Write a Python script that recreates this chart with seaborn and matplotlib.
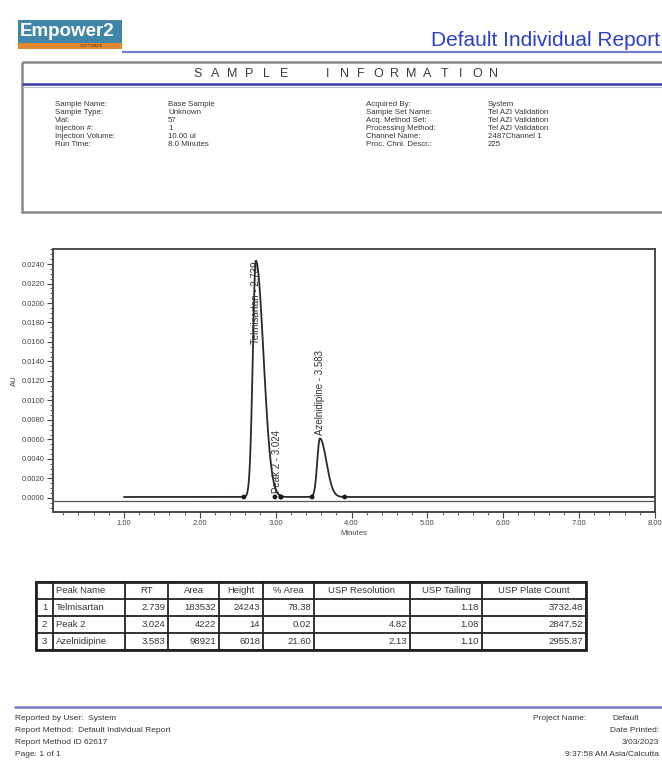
import numpy as np
import pandas as pd
import matplotlib
matplotlib.use("Agg")
import matplotlib.pyplot as plt
import seaborn as sns
from matplotlib.patches import Rectangle
from matplotlib.ticker import MultipleLocator, FormatStrFormatter

sns.set_theme(style="ticks")
plt.rcParams["font.family"] = ["Liberation Sans", "DejaVu Sans"]

# ---------------- report content ----------------
report_title = "Default Individual Report"
section_words = ["SAMPLE", "INFORMATION"]

info_left_labels = ["Sample Name:", "Sample Type:", "Vial:", "Injection #:",
                    "Injection Volume:", "Run Time:"]
info_left_values = ["Base Sample", "Unknown", "57", "1", "10.00 ul", "8.0 Minutes"]
info_right_labels = ["Acquired By:", "Sample Set Name:", "Acq. Method Set:",
                     "Processing Method:", "Channel Name:", "Proc. Chnl. Descr.:"]
info_right_values = ["System", "Tel AZI Validation", "Tel AZI Validation",
                     "Tel AZI Validation", "2487Channel 1", "225"]

# peak results
peak_names = ["Telmisartan", "Peak 2", "Azelnidipine"]
peak_rt = [2.739, 3.024, 3.583]
peak_area = [183532, 4222, 98921]
peak_height_uv = [24243, 14, 6018]
peak_pct_area = [78.38, 0.02, 21.60]
usp_resolution = [None, 4.82, 2.13]
usp_tailing = [1.18, 1.08, 1.10]
usp_plate_count = [3732.48, 2847.52, 2955.87]

# peak shape (front / tail widths, min) and integration marks (min)
peak_front_width = [0.040, 0.010, 0.035]
peak_tail_width = [0.100, 0.012, 0.085]
peak_start = [2.58, 2.99, 3.48]
peak_end = [3.07, 3.07, 3.91]

footer_left = ["Reported by User:  System",
               "Report Method:  Default Individual Report",
               "Report Method ID 62617",
               "Page: 1 of 1"]
footer_right = ["Date Printed:", "3/03/2023", "9:37:58 AM Asia/Calcutta"]

run_start, run_end = 1.0, 8.0
baseline_level = 0.0001

# ---------------- figure / page ----------------
W, H = 662, 768
fig = plt.figure(figsize=(W / 100, H / 100), dpi=100)
fig.patch.set_facecolor("white")
page = fig.add_axes([0, 0, 1, 1])
page.set_xlim(0, W)
page.set_ylim(H, 0)
page.axis("off")

txt = "#363636"

# logo
page.add_patch(Rectangle((18, 20), 104, 23, facecolor="#3f86a8", edgecolor="none"))
page.add_patch(Rectangle((18, 43), 104, 6, facecolor="#e2862f", edgecolor="none"))
page.text(20, 32, "Empower2", color="white", fontsize=13.5, fontweight="bold",
          va="center", ha="left")
page.text(92, 46.2, "SOFTWARE", color="#6a3a10", fontsize=3, va="center", ha="center")

# title and rule
page.text(660, 46, report_title, color="#2b3fc8", fontsize=15, ha="right", va="baseline")
page.plot([122, W], [51.5, 51.5], color="#7a7ad2", lw=1.6, solid_capstyle="butt")

# sample information box
page.add_patch(Rectangle((22, 62), 660, 150, facecolor="none", edgecolor="#8a8a8a", lw=1.8))
word_start = [198, 328]
word_pitch = [17.2, 16.6]
for word, x0, pitch in zip(section_words, word_start, word_pitch):
    for k, ch in enumerate(word):
        page.text(x0 + pitch * k, 74, ch, color="#3c3c3c", fontsize=9,
                  ha="center", va="center")
page.plot([23, W], [84, 84], color="#3838a8", lw=1.8)
page.plot([23, W], [86.5, 86.5], color="#b8b8e0", lw=0.8)

for i, (lab, val) in enumerate(zip(info_left_labels, info_left_values)):
    y = 104 + 8 * i
    page.text(55, y, lab, fontsize=5.7, color=txt, va="center")
    page.text(168, y, val, fontsize=5.7, color=txt, va="center")
for i, (lab, val) in enumerate(zip(info_right_labels, info_right_values)):
    y = 104 + 8 * i
    page.text(366, y, lab, fontsize=5.7, color=txt, va="center")
    page.text(488, y, val, fontsize=5.7, color=txt, va="center")

# ---------------- chromatogram ----------------
ax_l, ax_r, ax_t, ax_b = 53, 655, 249, 512
ax = fig.add_axes([ax_l / W, 1 - ax_b / H, (ax_r - ax_l) / W, (ax_b - ax_t) / H])
ax.set_facecolor("white")

t = np.linspace(run_start, run_end, 7001)
signal = np.full_like(t, baseline_level)
for rt, h, wf, wt in zip(peak_rt, peak_height_uv, peak_front_width, peak_tail_width):
    amp = h / 1e6
    w = np.where(t < rt, wf, wt)
    signal += amp * np.exp(-0.5 * ((t - rt) / w) ** 2)

trace = pd.DataFrame({"Minutes": t, "AU": signal})
ax.axhline(-0.0003, color="#555555", lw=0.9)
sns.lineplot(data=trace, x="Minutes", y="AU", ax=ax, color="#2a2a2a", lw=1.3,
             estimator=None, sort=False)

marks = pd.DataFrame({"Minutes": peak_start + peak_end,
                      "AU": [baseline_level] * (2 * len(peak_start))})
sns.scatterplot(data=marks, x="Minutes", y="AU", ax=ax, color="#1a1a1a",
                s=12, edgecolor="none", zorder=5)

for name, rt, h in zip(peak_names, peak_rt, peak_height_uv):
    amp = h / 1e6
    label = f"{name} - {rt:.3f}"
    if amp > 0.02:
        ax.text(rt, amp, label, rotation=90, fontsize=7, color="#333333",
                ha="center", va="top")
    else:
        ax.text(rt, max(amp, baseline_level) + 0.0004, label, rotation=90,
                fontsize=7, color="#333333", ha="center", va="bottom")

ax.set_xlim(0.065, 8.0)
ax.set_ylim(-0.00144, 0.02554)
ax.xaxis.set_major_locator(MultipleLocator(1.0))
ax.xaxis.set_minor_locator(MultipleLocator(0.2))
ax.xaxis.set_major_formatter(FormatStrFormatter("%.2f"))
ax.yaxis.set_major_locator(MultipleLocator(0.002))
ax.yaxis.set_minor_locator(MultipleLocator(0.0005))
ax.yaxis.set_major_formatter(FormatStrFormatter("%.4f"))
ax.tick_params(which="major", length=4, width=0.8, labelsize=5.5, colors="#444444", pad=2)
ax.tick_params(which="minor", length=2, width=0.6, colors="#444444")
for s in ax.spines.values():
    s.set_visible(True)
    s.set_color("#4a4a4a")
    s.set_linewidth(1.4)
ax.set_xlabel("Minutes", fontsize=5.5, color="#444444", labelpad=2)
ax.set_ylabel("AU", fontsize=5.5, color="#444444", labelpad=3)

# ---------------- peak table ----------------
col_x = [36, 53, 125, 168, 219, 263, 314, 410, 482, 586]
row_y = [582, 599, 616, 633, 650]
headers = ["", "Peak Name", "RT", "Area", "Height", "% Area",
           "USP Resolution", "USP Tailing", "USP Plate Count"]

rows = []
for i in range(len(peak_names)):
    rows.append([f"{i + 1}", peak_names[i], f"{peak_rt[i]:.3f}", f"{peak_area[i]}",
                 f"{peak_height_uv[i]}", f"{peak_pct_area[i]:.2f}",
                 "" if usp_resolution[i] is None else f"{usp_resolution[i]:.2f}",
                 f"{usp_tailing[i]:.2f}", f"{usp_plate_count[i]:.2f}"])

tfs = 6.8
for j, htxt in enumerate(headers):
    xc = (col_x[j] + col_x[j + 1]) / 2
    if j == 1:
        page.text(col_x[j] + 3, (row_y[0] + row_y[1]) / 2, htxt, fontsize=tfs,
                  color=txt, va="center", ha="left")
    else:
        page.text(xc, (row_y[0] + row_y[1]) / 2, htxt, fontsize=tfs,
                  color=txt, va="center", ha="center")
for i, r in enumerate(rows):
    yc = (row_y[i + 1] + row_y[i + 2]) / 2
    for j, cell in enumerate(r):
        if j == 0:
            page.text((col_x[0] + col_x[1]) / 2, yc, cell, fontsize=tfs, color=txt,
                      va="center", ha="center")
        elif j == 1:
            page.text(col_x[j] + 3, yc, cell, fontsize=tfs, color=txt,
                      va="center", ha="left")
        else:
            page.text(col_x[j + 1] - 3, yc, cell, fontsize=tfs, color=txt,
                      va="center", ha="right")

for x in col_x:
    page.plot([x, x], [row_y[0], row_y[-1]], color="#222222", lw=1.3)
for y in row_y:
    page.plot([col_x[0], col_x[-1]], [y, y], color="#222222", lw=1.3)
page.add_patch(Rectangle((col_x[0], row_y[0]), col_x[-1] - col_x[0], row_y[-1] - row_y[0],
                         facecolor="none", edgecolor="#222222", lw=2.0))

# ---------------- footer ----------------
page.plot([15, W], [707, 707], color="#8585cc", lw=2.0)
for i, line in enumerate(footer_left):
    page.text(15, 719 + 12 * i, line, fontsize=6, color=txt, va="center")
page.text(533, 719, "Project Name:", fontsize=6, color=txt, va="center")
page.text(612, 719, "Default", fontsize=6, color=txt, va="center")
for i, line in enumerate(footer_right):
    page.text(659, 731 + 12 * i, line, fontsize=6, color=txt, va="center", ha="right")

fig.savefig("out.png", dpi=100, facecolor="white")
